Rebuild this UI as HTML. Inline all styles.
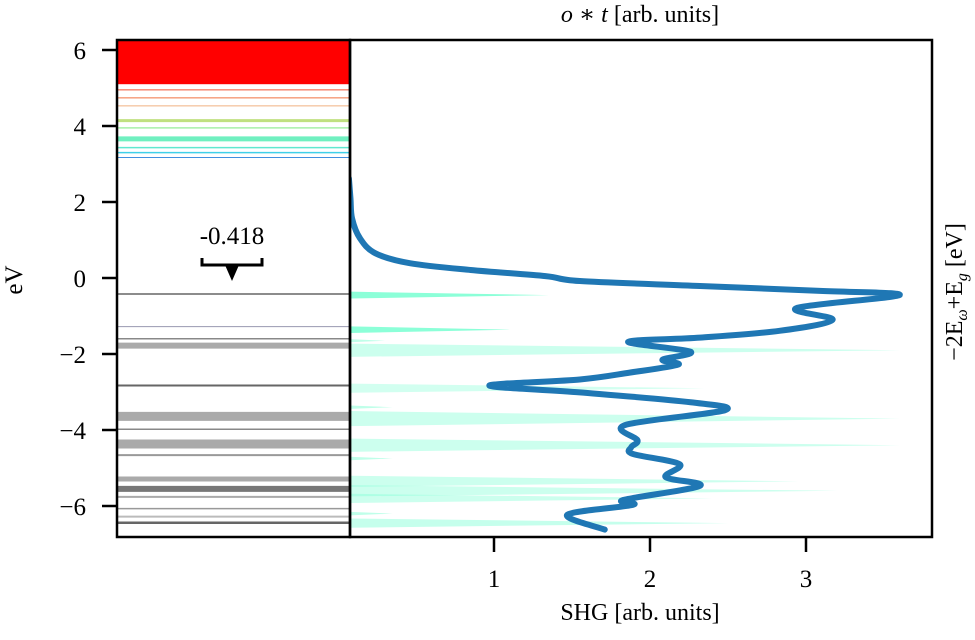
<!DOCTYPE html>
<html><head><meta charset="utf-8"><style>
html,body{margin:0;padding:0;background:#fff;}
svg{display:block;font-family:"Liberation Serif","DejaVu Serif",serif;}
</style></head><body>
<svg id="chart" width="975" height="640" viewBox="0 0 975 640" xmlns="http://www.w3.org/2000/svg">
<defs>
<clipPath id="lclip"><rect x="117" y="40" width="233" height="497"/></clipPath>
<clipPath id="rclip"><rect x="350" y="40" width="582" height="497"/></clipPath>
</defs>
<g id="levels" clip-path="url(#lclip)"></g>
<g id="spikes" clip-path="url(#rclip)"></g>
<g id="curve" clip-path="url(#rclip)"></g>
<rect x="117" y="40" width="233" height="497" fill="none" stroke="#000" stroke-width="2.5"/>
<rect x="350" y="40" width="582" height="497" fill="none" stroke="#000" stroke-width="2.5"/>
<g id="yticks"></g>
<g id="xticks"></g>
<text x="232" y="244" font-size="25" text-anchor="middle">-0.418</text>
<path d="M202,258 V265 H262 V258" fill="none" stroke="#000" stroke-width="3"/>
<path d="M225,265 L239,265 L232,281 Z" fill="#000"/>
<text transform="translate(22,280) rotate(-90)" font-size="25" text-anchor="middle">eV</text>
<text transform="translate(962,292) rotate(-90)" font-size="24" text-anchor="middle">−2E<tspan font-size="16" dy="5" font-style="italic">ω</tspan><tspan dy="-5">+E</tspan><tspan font-size="16" dy="5" font-style="italic">g</tspan><tspan dy="-5"> [eV]</tspan></text>
<text x="640" y="22" font-size="24" text-anchor="middle"><tspan font-style="italic">o</tspan> ∗ <tspan font-style="italic">t</tspan> [arb. units]</text>
<text x="640" y="620" font-size="24" text-anchor="middle">SHG [arb. units]</text>
</svg>
<script>
// ---- data ----
const yTicks = [6, 4, 2, 0, -2, -4, -6];
const yTickLabels = ["6", "4", "2", "0", "−2", "−4", "−6"];
const xTicks = [1, 2, 3];
const xTickLabels = ["1", "2", "3"];
const levelE = [4.95, 4.74, 4.53, 4.14, 3.95, 3.66, 3.43, 3.30, 3.17, -0.42, -1.28, -1.60, -1.78, -2.83, -3.64, -3.98, -4.37, -4.66, -5.29, -5.55, -5.76, -6.07, -6.28, -6.44];
const levelColor = ["#f05030", "#f07040", "#f0b080", "#c0e080", "#a8f0a8", "#70f0c0", "#60e8d0", "#40d0e8", "#4090e0", "#666", "#9898b0", "#888", "#aaa", "#666", "#aaa", "#888", "#aaa", "#999", "#aaa", "#777", "#aaa", "#999", "#bbb", "#666"];
const levelWidth = [1, 1, 1, 3, 1.5, 5, 1.5, 1.5, 1, 1.5, 1, 1.5, 6, 2, 9, 1.5, 9, 2, 5, 6, 2, 1.5, 2, 2.5];
const bandTopE = 6.4;
const bandBottomE = 5.1;
const curveE = [2.62, 2.09, 1.57, 1.05, 0.65, 0.39, 0.21, 0.05, -0.08, -0.21, -0.34, -0.45, -0.79, -1.10, -1.39, -1.57, -1.68, -1.94, -2.15, -2.28, -2.49, -2.67, -2.83, -3.01, -3.27, -3.48, -3.87, -4.27, -4.45, -4.63, -4.90, -5.24, -5.47, -5.84, -5.97, -6.23, -6.62];
const curveSHG = [0.07, 0.08, 0.09, 0.14, 0.24, 0.46, 0.85, 1.33, 1.55, 2.32, 3.09, 3.60, 2.94, 3.17, 2.83, 2.32, 1.86, 2.26, 2.08, 2.18, 1.87, 1.55, 0.97, 1.55, 2.26, 2.48, 1.84, 1.92, 1.88, 1.89, 2.19, 2.10, 2.32, 1.83, 1.89, 1.47, 1.71];
const spikeE = [-0.45, -1.36, -1.65, -1.90, -2.90, -3.40, -3.70, -4.40, -4.75, -5.35, -5.60, -5.80, -6.20, -6.45];
const spikeSHG = [1.35, 1.10, 0.30, 3.60, 2.35, 0.35, 3.60, 3.60, 0.35, 2.95, 3.20, 2.40, 0.35, 2.50];
const spikeAlpha = [0.9, 0.9, 0.5, 0.4, 0.35, 0.5, 0.4, 0.4, 0.5, 0.4, 0.4, 0.4, 0.5, 0.45];
const spikeHalf = [4, 4, 3, 7, 5, 3, 8, 7, 3, 6, 6, 5, 3, 5];
// ---- scales ----
const yOf = e => 278 - e * 38.0;
const xOf = v => 338 + v * 156;
const NS = "http://www.w3.org/2000/svg";
function mk(tag, attrs, parent) { const el = document.createElementNS(NS, tag); for (const k in attrs) el.setAttribute(k, attrs[k]); parent.appendChild(el); return el; }
const L = document.getElementById('levels');
const band = mk('rect', {x: 117, y: yOf(bandTopE), width: 233, height: yOf(bandBottomE) - yOf(bandTopE), fill: '#ff0000'}, L);


levelE.forEach((e, i) => {
  const ln = mk('line', {x1: 117, x2: 350, y1: yOf(e), y2: yOf(e), stroke: levelColor[i], 'stroke-width': levelWidth[i]}, L);
  
  
});
const S = document.getElementById('spikes');
spikeE.forEach((e, i) => {
  const y = yOf(e), h = spikeHalf[i];
  const p = mk('path', {d: `M${xOf(0) - 20},${y - h} L${xOf(spikeSHG[i])},${y} L${xOf(0) - 20},${y + h} Z`, fill: '#7fffd4', 'fill-opacity': spikeAlpha[i]}, S);
  
  
});
const C = document.getElementById('curve');
let pts = curveE.map((e, i) => [xOf(curveSHG[i]), yOf(e)]);
let d = 'M' + pts[0][0] + ',' + pts[0][1];
for (let i = 0; i < pts.length - 1; i++) {
  const p0 = pts[Math.max(0, i - 1)], p1 = pts[i], p2 = pts[i + 1], p3 = pts[Math.min(pts.length - 1, i + 2)];
  const c1 = [p1[0] + (p2[0] - p0[0]) / 6, p1[1] + (p2[1] - p0[1]) / 6];
  const c2 = [p2[0] - (p3[0] - p1[0]) / 6, p2[1] - (p3[1] - p1[1]) / 6];
  d += ` C${c1[0]},${c1[1]} ${c2[0]},${c2[1]} ${p2[0]},${p2[1]}`;
}
const cv = mk('path', {d: d, fill: 'none', stroke: '#1f77b4', 'stroke-width': 6, 'stroke-linejoin': 'round', 'stroke-linecap': 'round'}, C);


const YT = document.getElementById('yticks');
yTicks.forEach((t, i) => {
  const tk = mk('line', {x1: 102, x2: 117, y1: yOf(t), y2: yOf(t), stroke: '#000', 'stroke-width': 2.5}, YT);
  
  
  const tx = mk('text', {x: 86, y: yOf(t) + 9, 'font-size': 25, 'text-anchor': 'end'}, YT);
  tx.textContent = yTickLabels[i];
  
  
});
const XT = document.getElementById('xticks');
xTicks.forEach((t, i) => {
  const tk = mk('line', {x1: xOf(t), x2: xOf(t), y1: 537, y2: 552, stroke: '#000', 'stroke-width': 2.5}, XT);
  
  
  const tx = mk('text', {x: xOf(t), y: 587, 'font-size': 25, 'text-anchor': 'middle'}, XT);
  tx.textContent = xTickLabels[i];
  
  
});
</script>
</body></html>
